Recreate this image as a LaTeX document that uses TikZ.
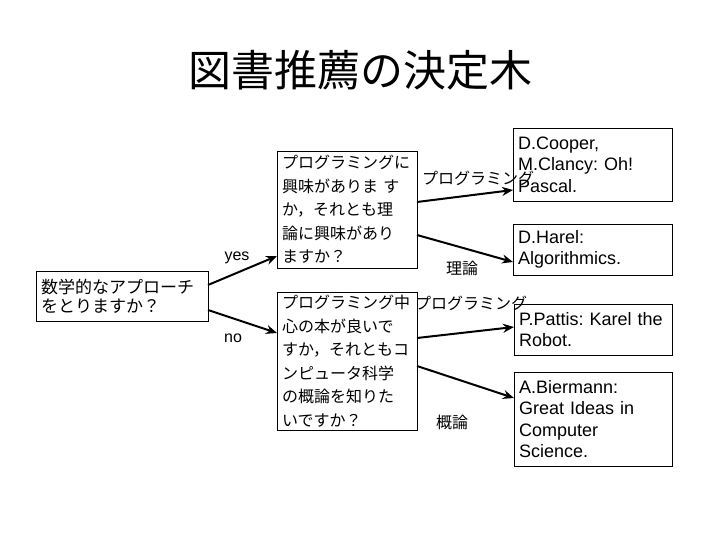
\documentclass[tikz,border=0pt]{standalone}
\usepackage{fontspec}
\setmainfont{Liberation Sans}
\newfontfamily\jp{Noto Sans CJK JP}
\usetikzlibrary{arrows.meta}
\frenchspacing

\begin{document}
\begin{tikzpicture}[x=1pt,y=-1pt,>={Stealth[length=11pt,width=9pt]},
    box/.style={draw,line width=0.8pt,anchor=north west,align=left,
        inner xsep=5pt,inner ysep=0pt,outer sep=0pt},
    qtext/.style={font=\jp\fontsize{16}{23.5}\selectfont},
    btext/.style={font=\fontsize{18}{21.5}\selectfont},
    link/.style={->,line width=2pt},
    lbl/.style={inner sep=0pt,font=\jp\fontsize{16}{18}\selectfont}]
    \useasboundingbox (0,0) rectangle (720,540);

    \node[font=\jp\fontsize{43}{46}\selectfont] (title) at (360,70)
        {図書推薦の決定木};

    % questions
    \node[box,text width=162pt,minimum height=50pt,
        font=\jp\fontsize{17}{19}\selectfont] (root) at (36,271)
        {数学的なアプローチ\\をとりますか？};
    \node[box,qtext,text width=130pt,minimum height=117pt] (q1) at (277,151)
        {プログラミングに\\
         興味がありま す\\
         か，それとも理\\
         論に興味があり\\
         ますか？};
    \node[box,qtext,text width=130pt,minimum height=138pt] (q2) at (277,292)
        {プログラミング中\\
         心の本が良いで\\
         すか，それともコ\\
         ンピュータ科学\\
         の概論を知りた\\
         いですか？};

    % books
    \node[box,btext,text width=149pt,minimum height=73pt] (cooper) at (513,128)
        {D.Cooper,\\M.Clancy: Oh!\\Pascal.};
    \node[box,btext,text width=149pt,minimum height=51pt] (harel) at (513,224)
        {D.Harel:\\Algorithmics.};
    \node[box,btext,text width=148pt,minimum height=51pt] (pattis) at (514,304)
        {P.Pattis: Karel the\\Robot.};
    \node[box,btext,text width=148pt,minimum height=94pt] (biermann) at (514,372)
        {A.Biermann:\\Great Ideas in\\Computer\\Science.};

    % connectors
    \draw[link] ([yshift=11pt]root.east) -- ([yshift=-46.5pt]q1.west);
    \draw[link] ([yshift=-14pt]root.east) -- ([yshift=28pt]q2.west);
    \draw[link] ([yshift=7.5pt]q1.east) -- ([yshift=-25.5pt]cooper.west);
    \draw[link] ([yshift=-25.5pt]q1.east) -- ([yshift=-12.5pt]harel.west);
    \draw[link] ([yshift=23pt]q2.east) -- ([yshift=2.5pt]pattis.west);
    \draw[link] ([yshift=-5pt]q2.east) -- ([yshift=21pt]biermann.west);

    % answers
    \node[inner sep=0pt,font=\fontsize{16}{18}\selectfont] (yes) at (237,258) {yes};
    \node[inner sep=0pt,font=\fontsize{16}{18}\selectfont] (no) at (233,338) {no};
    \node[lbl] (prog1) at (478,178) {プログラミング};
    \node[lbl] (theory) at (462,268) {理論};
    \node[lbl] (prog2) at (471,303) {プログラミング};
    \node[lbl] (intro) at (452,422) {概論};
\end{tikzpicture}
\end{document}
